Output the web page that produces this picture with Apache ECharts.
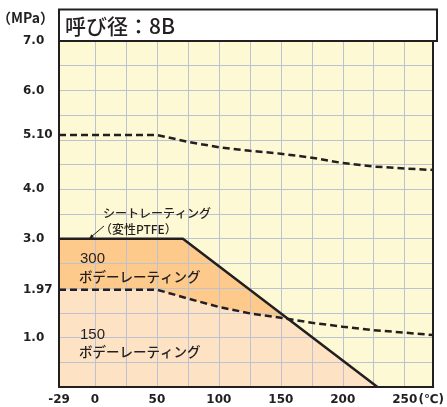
<!DOCTYPE html>
<html><head><meta charset="utf-8">
<script src="https://cdn.jsdelivr.net/npm/echarts@6/dist/echarts.min.js"></script>
<style>html,body{margin:0;padding:0;background:#fff}#c{width:447px;height:407px}</style>
</head><body><div id="c"></div>
<script>
// ---- data ----
const titleText = '呼び径：8B';
const yUnitText = '（MPa）';
const xUnitText = '(℃)';
const xMin = -29, xMax = 273, yMin = 0, yMax = 7;
const xLabelValues = [-29, 0, 50, 100, 150, 200, 250];
const xLabelTexts = ['-29', '0', '50', '100', '150', '200', '250'];
const xGridValues = [0, 25, 50, 75, 100, 125, 150, 175, 200, 225, 250];
const yLabelValues = [1, 1.97, 3, 4, 5.1, 6, 7];
const yLabelTexts = ['1.0', '1.97', '3.0', '4.0', '5.10', '6.0', '7.0'];
const yGridValues = [0, 0.5, 1, 1.5, 2, 2.5, 3, 3.5, 4, 4.5, 5, 5.5, 6, 6.5, 7];
const seatRating = [[-29, 3.0], [71, 3.0], [228, 0]];
const class150 = [[-29, 1.97], [50, 1.97], [75, 1.79], [100, 1.62], [125, 1.49], [150, 1.40], [175, 1.30], [200, 1.22], [225, 1.15], [250, 1.10], [273, 1.05]];
const class300 = [[-29, 5.10], [50, 5.10], [75, 4.96], [100, 4.85], [125, 4.78], [150, 4.72], [175, 4.64], [200, 4.53], [225, 4.46], [250, 4.42], [273, 4.39]];
const seatLabel1 = 'シートレーティング';
const seatLabel2 = '（変性PTFE）';
const body300a = '300', body300b = 'ボデーレーティング';
const body150a = '150', body150b = 'ボデーレーティング';

// ---- style ----
const INK = '#231f20';
const BG = '#fef9d5';
const ORANGE = '#fdca8b';
const PEACH = '#fde2c4';
const GRIDC = '#bcc2cf';
const NUMF = '"DejaVu Sans", sans-serif';
const LBF = '"Liberation Sans", sans-serif';
const JPF = '"Noto Sans CJK JP", sans-serif';

function pick(vals, texts, v) {
  const i = vals.findIndex(t => Math.abs(t - v) < 1e-6);
  return i >= 0 ? texts[i] : '';
}

const chart = echarts.init(document.getElementById('c'));
const option = {
  animation: false,
  grid: { left: 59, top: 41, right: 10, bottom: 20, show: true, backgroundColor: BG, borderWidth: 0 },
  xAxis: [{
    type: 'value', min: xMin, max: xMax, z: 4,
    axisLine: { show: true, onZero: false, lineStyle: { color: INK, width: 2 } },
    axisTick: { show: false, customValues: xGridValues },
    splitLine: { show: true, lineStyle: { color: GRIDC, width: 1 } },
    axisLabel: {
      customValues: xLabelValues, margin: 7, color: INK, fontFamily: NUMF, fontSize: 12, fontWeight: 'bold',
      formatter: v => {
        const t = pick(xLabelValues, xLabelTexts, v);
        return (v === xLabelValues[xLabelValues.length - 1]) ? '{s| }' + t + '{u|' + xUnitText + '}' : t;
      },
      rich: {
        s: { width: 28 },
        u: { width: 28, align: 'left', fontFamily: NUMF, fontSize: 12, color: INK }
      }
    }
  }, {
    type: 'value', position: 'top', min: xMin, max: xMax, z: 4,
    axisLine: { show: true, onZero: false, lineStyle: { color: INK, width: 2 } },
    axisTick: { show: false }, axisLabel: { show: false }, splitLine: { show: false }
  }],
  yAxis: [{
    type: 'value', min: yMin, max: yMax, z: 4,
    axisLine: { show: true, onZero: false, lineStyle: { color: INK, width: 2 } },
    axisTick: { show: false, customValues: yGridValues },
    splitLine: { show: true, lineStyle: { color: GRIDC, width: 1 } },
    axisLabel: {
      customValues: yLabelValues, margin: 36, align: 'left', color: INK, fontFamily: NUMF, fontSize: 12, fontWeight: 'bold',
      formatter: v => pick(yLabelValues, yLabelTexts, v)
    }
  }, {
    type: 'value', position: 'right', min: yMin, max: yMax, z: 4,
    axisLine: { show: true, onZero: false, lineStyle: { color: INK, width: 2 } },
    axisTick: { show: false }, axisLabel: { show: false }, splitLine: { show: false }
  }],
  series: [
    { type: 'line', data: seatRating, symbol: 'none', silent: true, z: 1,
      lineStyle: { opacity: 0 }, areaStyle: { color: ORANGE, opacity: 1 } },
    { type: 'line', data: class150, symbol: 'none', silent: true, z: 2,
      lineStyle: { opacity: 0 }, areaStyle: { color: PEACH, opacity: 1 } },
    { type: 'line', data: seatRating.concat([[xMax, 0]]), symbol: 'none', silent: true, z: 3,
      lineStyle: { opacity: 0 }, areaStyle: { color: BG, opacity: 1, origin: 'end' } },
    { type: 'line', data: seatRating, symbol: 'none', silent: true, z: 6,
      lineStyle: { color: INK, width: 2.5 } },
    { type: 'line', data: class150, symbol: 'none', silent: true, z: 6,
      lineStyle: { color: INK, width: 2.5, type: [7, 4] } },
    { type: 'line', data: class300, symbol: 'none', silent: true, z: 6,
      lineStyle: { color: INK, width: 2.5, type: [7, 4] } }
  ],
  graphic: [
    { type: 'rect', z: 10, shape: { x: 59, y: 9.5, width: 378, height: 31.5 },
      style: { fill: '#ffffff', stroke: INK, lineWidth: 2 } },
    { type: 'text', z: 11, x: 65, y: 26, style: { text: titleText, font: '500 21px ' + JPF, fill: INK, textVerticalAlign: 'middle' } },
    { type: 'text', z: 11, x: -3, y: 18, style: { text: yUnitText, font: 'bold 14px ' + JPF, fill: INK, textVerticalAlign: 'middle' } },
    { type: 'text', z: 11, x: 103, y: 213, style: { text: seatLabel1, font: '500 12px ' + JPF, fill: INK, textVerticalAlign: 'middle' } },
    { type: 'text', z: 11, x: 100, y: 229, style: { text: seatLabel2, font: '500 12px ' + JPF, fill: INK, textVerticalAlign: 'middle' } },
    { type: 'polyline', z: 11, shape: { points: [[104, 226], [91, 237]] }, style: { stroke: INK, lineWidth: 1 } },
    { type: 'polygon', z: 11, shape: { points: [[89, 238.8], [91.5, 234.3], [94, 237.3]] }, style: { fill: INK } },
    { type: 'text', z: 11, x: 80, y: 259, style: { text: body300a, font: '15px ' + LBF, fill: INK, textVerticalAlign: 'middle' } },
    { type: 'text', z: 11, x: 79, y: 277, style: { text: body300b, font: '500 13.5px ' + JPF, fill: INK, textVerticalAlign: 'middle' } },
    { type: 'text', z: 11, x: 80, y: 335, style: { text: body150a, font: '15px ' + LBF, fill: INK, textVerticalAlign: 'middle' } },
    { type: 'text', z: 11, x: 79, y: 352, style: { text: body150b, font: '500 13.5px ' + JPF, fill: INK, textVerticalAlign: 'middle' } }
  ]
};
chart.setOption(option);
</script>
</body></html>
